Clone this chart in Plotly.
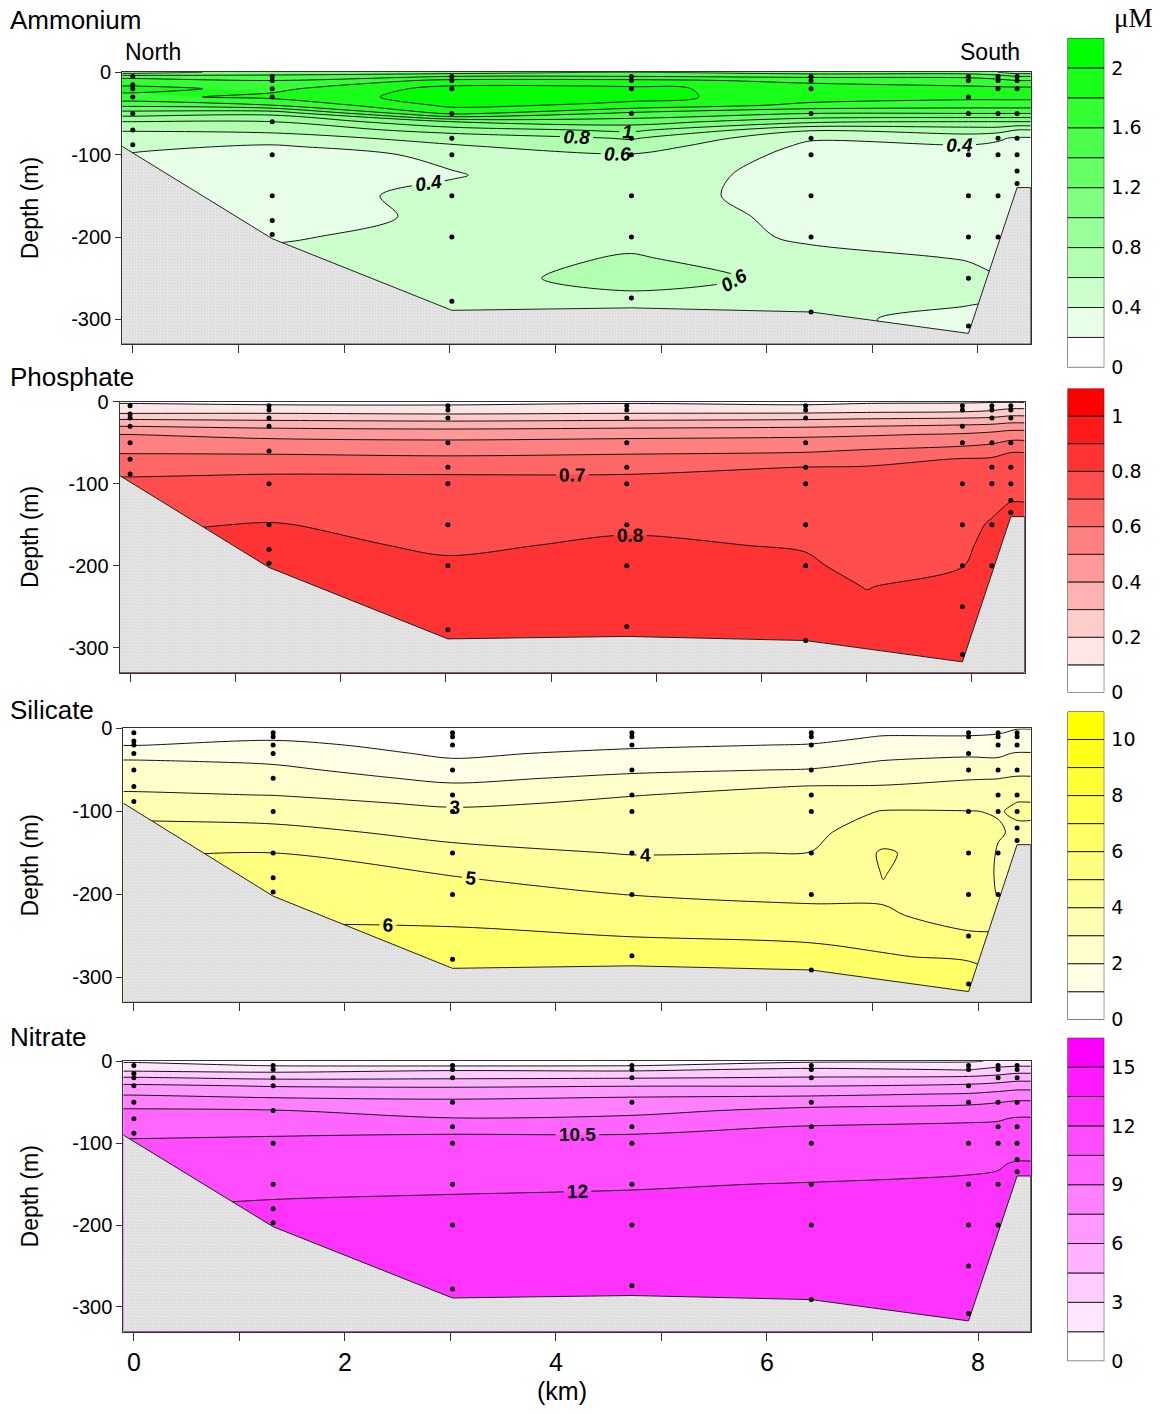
import plotly.graph_objects as go

W, H = 1166, 1414

# ---------------- data ----------------
DEPTHS = [0, 5, 10, 20, 30, 40, 50, 60, 70, 80, 90, 100, 125, 150, 175, 200, 225, 250, 275, 300, 330]
STATION_KM = [0.0, 1.32, 3.02, 4.72, 6.42, 7.91, 8.19, 8.37]
STATION_SAMPLES = [
    [5, 15, 20, 30, 50, 70, 88],
    [5, 10, 20, 30, 60, 100, 150, 180, 197],
    [5, 10, 20, 50, 80, 100, 150, 200, 278],
    [5, 10, 20, 50, 80, 100, 150, 200, 274],
    [5, 10, 20, 50, 80, 100, 150, 200, 291],
    [5, 10, 30, 50, 100, 150, 200, 250, 308],
    [5, 10, 20, 50, 80, 100, 150, 200],
    [5, 10, 20, 50, 80, 100, 120, 135],
]
BATHY_KM = [-0.1, 1.32, 3.02, 4.72, 6.42, 7.91, 8.37, 8.5]
BATHY_DEPTH = [-90, -202, -289, -286, -291, -317, -140, -140]
X_RANGE = [-0.1, 8.5]
Y_RANGE = [-330, 0]
N = None

# Ammonium (uM), one profile per column over DEPTHS
AMM_KM = [0.0, 1.32, 3.02, 4.72, 6.42, 7.91, 8.19, 8.37]
AMM_PROFILES = [
    [1.1, 1.5, 1.7, 1.85, 1.75, 1.45, 1.1, 0.8, 0.62, 0.5, 0.45, N, N, N, N, N, N, N, N, N, N],
    [1.3, 1.45, 1.6, 1.75, 1.85, 1.6, 1.05, 0.8, 0.64, 0.53, 0.37, 0.33, 0.3, 0.34, 0.33, 0.38, N, N, N, N, N],
    [1.3, 1.6, 1.85, 2.08, 2.1, 2.05, 1.85, 1.2, 0.9, 0.66, 0.58, 0.43, 0.39, 0.44, 0.43, 0.46, 0.5, 0.52, 0.5, N, N],
    [1.4, 1.6, 1.85, 2.05, 2.06, 1.95, 1.55, 1.3, 1.05, 0.82, 0.7, 0.59, 0.5, 0.47, 0.5, 0.52, 0.62, 0.68, 0.55, N, N],
    [1.3, 1.55, 1.75, 1.9, 1.9, 1.75, 1.4, 1.05, 0.62, 0.42, 0.36, 0.34, 0.32, 0.33, 0.35, 0.37, 0.45, 0.55, 0.45, N, N],
    [1.3, 1.55, 1.7, 1.85, 1.85, 1.7, 1.4, 1.0, 0.7, 0.5, 0.38, 0.35, 0.33, 0.32, 0.33, 0.35, 0.39, 0.44, 0.42, 0.36, N],
    [1.2, 1.5, 1.65, 1.85, 1.85, 1.7, 1.4, 1.0, 0.7, 0.42, 0.37, 0.35, 0.34, 0.33, 0.34, 0.36, N, N, N, N, N],
    [1.1, 1.4, 1.6, 1.85, 1.85, 1.7, 1.4, 1.0, 0.6, 0.38, 0.36, 0.35, 0.34, N, N, N, N, N, N, N, N],
]
AMM_LABELED = [0.4, 0.6, 0.8, 1.0]

# Phosphate (uM)
PHO_KM = [0.0, 1.32, 3.02, 4.72, 6.42, 7.0, 7.91, 8.19, 8.37]
PHO_PROFILES = [
    [0.085, 0.12, 0.14, 0.28, 0.4, 0.5, 0.54, 0.585, 0.63, 0.67, 0.695, N, N, N, N, N, N, N, N, N, N],
    [0.085, 0.105, 0.15, 0.27, 0.38, 0.47, 0.53, 0.58, 0.63, 0.675, 0.705, 0.72, 0.76, 0.805, 0.82, 0.84, N, N, N, N, N],
    [0.08, 0.105, 0.14, 0.26, 0.37, 0.46, 0.52, 0.57, 0.62, 0.66, 0.705, 0.72, 0.75, 0.77, 0.79, 0.81, 0.82, 0.83, 0.84, N, N],
    [0.085, 0.12, 0.15, 0.27, 0.38, 0.47, 0.53, 0.58, 0.63, 0.67, 0.705, 0.72, 0.76, 0.79, 0.81, 0.82, 0.83, 0.84, 0.84, N, N],
    [0.085, 0.105, 0.15, 0.28, 0.39, 0.48, 0.54, 0.59, 0.65, 0.702, 0.72, 0.73, 0.76, 0.78, 0.795, 0.81, 0.82, 0.83, 0.84, N, N],
    [0.085, 0.12, 0.16, 0.29, 0.4, 0.49, 0.55, 0.61, 0.67, 0.705, 0.72, 0.73, 0.745, 0.76, 0.77, 0.78, 0.798, 0.81, 0.83, 0.84, N],
    [0.085, 0.13, 0.17, 0.3, 0.42, 0.51, 0.57, 0.64, 0.705, 0.72, 0.73, 0.74, 0.75, 0.77, 0.78, 0.798, 0.82, 0.83, 0.84, 0.85, N],
    [0.09, 0.14, 0.19, 0.31, 0.43, 0.53, 0.59, 0.66, 0.71, 0.72, 0.73, 0.74, 0.78, 0.81, 0.83, 0.84, N, N, N, N, N],
    [0.09, 0.15, 0.22, 0.33, 0.45, 0.55, 0.62, 0.695, 0.72, 0.73, 0.74, 0.76, 0.805, N, N, N, N, N, N, N, N],
]
PHO_LABELED = [0.7, 0.8]

# Silicate (uM)
SIL_KM = [0.0, 1.32, 3.02, 4.72, 6.42, 7.1, 7.91, 8.19, 8.37]
SIL_PROFILES = [
    [0.6, 0.75, 0.85, 0.97, 1.6, 2.1, 2.3, 2.55, 2.85, 3.1, 3.4, N, N, N, N, N, N, N, N, N, N],
    [0.5, 0.65, 0.85, 1.2, 1.5, 1.9, 2.2, 2.45, 2.72, 2.98, 3.3, 3.55, 4.3, 5.02, 5.5, 5.95, N, N, N, N, N],
    [0.3, 0.35, 0.45, 0.7, 0.85, 1.1, 1.45, 1.8, 2.15, 2.5, 2.85, 3.15, 3.7, 4.3, 4.95, 5.4, 5.75, 6.2, 6.5, N, N],
    [0.35, 0.45, 0.6, 0.85, 1.2, 1.5, 1.85, 2.2, 2.6, 2.97, 3.15, 3.3, 3.6, 3.95, 4.5, 4.98, 5.5, 5.98, 6.4, N, N],
    [0.4, 0.55, 0.7, 1.05, 1.4, 1.7, 2.05, 2.5, 3.05, 3.25, 3.4, 3.5, 3.75, 4.02, 4.4, 4.8, 5.25, 5.8, 6.4, N, N],
    [0.6, 0.85, 1.05, 1.3, 1.7, 2.05, 2.4, 2.75, 3.05, 3.3, 3.65, 4.05, 4.6, 5.1, 5.02, 4.95, 5.05, 5.6, 6.1, 6.9, N],
    [0.6, 0.85, 1.05, 1.4, 1.85, 2.2, 2.5, 2.95, 3.2, 3.45, 3.75, 4.02, 4.3, 4.5, 4.6, 4.7, 4.85, 5.05, 5.8, 6.75, N],
    [0.7, 0.95, 1.1, 1.35, 1.9, 2.1, 2.6, 2.98, 3.3, 3.55, 3.8, 3.97, 4.05, 3.95, 3.9, 3.95, N, N, N, N, N],
    [0.98, 1.1, 1.4, 1.6, 2.05, 2.4, 2.7, 3.1, 3.5, 3.85, 4.02, 4.06, 3.92, N, N, N, N, N, N, N, N],
]
SIL_LABELED = [3, 4, 5, 6]

# Nitrate (uM)
NIT_KM = [0.0, 1.32, 3.02, 4.72, 6.42, 7.91, 8.19, 8.37]
NIT_PROFILES = [
    [1.3, 2.0, 2.6, 4.6, 6.3, 7.4, 8.2, 9.2, 9.6, 10.0, 10.3, N, N, N, N, N, N, N, N, N, N],
    [1.1, 1.4, 2.4, 4.2, 5.9, 7.1, 8.0, 9.05, 9.6, 10.0, 10.45, 10.75, 11.3, 11.7, 12.1, 12.3, N, N, N, N, N],
    [1.0, 1.3, 2.8, 4.3, 5.8, 7.0, 7.8, 8.5, 9.05, 10.0, 10.55, 10.8, 11.3, 11.8, 12.2, 12.4, 12.5, 12.6, 12.7, N, N],
    [1.2, 1.4, 2.7, 4.4, 5.95, 7.2, 8.0, 8.7, 9.2, 10.0, 10.55, 10.8, 11.35, 11.9, 12.25, 12.4, 12.5, 12.6, 12.7, N, N],
    [1.3, 2.2, 3.3, 4.6, 5.95, 7.2, 8.5, 9.3, 9.8, 10.6, 10.8, 11.0, 11.5, 12.05, 12.3, 12.4, 12.5, 12.6, 12.7, N, N],
    [1.4, 2.0, 2.9, 4.8, 6.3, 7.6, 8.7, 9.6, 10.3, 10.7, 10.9, 11.1, 11.75, 12.2, 12.35, 12.45, 12.5, 12.6, 12.7, 12.75, N],
    [1.6, 2.6, 3.5, 5.0, 6.6, 7.9, 8.95, 9.8, 10.4, 10.7, 10.9, 11.2, 11.9, 12.2, 12.4, 12.5, N, N, N, N, N],
    [1.7, 2.8, 3.8, 5.3, 6.9, 8.1, 9.2, 10.0, 10.6, 10.8, 11.0, 11.3, 12.1, N, N, N, N, N, N, N, N],
]
NIT_LABELED = [10.5, 12]

PANEL_TITLES = ["Ammonium", "Phosphate", "Silicate", "Nitrate"]
PANEL_STEPS = [0.2, 0.1, 1.0, 1.5]
PANEL_BASE_RGB = [(0, 255, 0), (255, 0, 0), (255, 255, 0), (255, 0, 255)]
CB_TICKVALS = [[0, 0.4, 0.8, 1.2, 1.6, 2.0], [0, 0.2, 0.4, 0.6, 0.8, 1.0],
               [0, 2, 4, 6, 8, 10], [0, 3, 6, 9, 12, 15]]
CB_TICKTEXT = [["0", "0.4", "0.8", "1.2", "1.6", "2"], ["0", "0.2", "0.4", "0.6", "0.8", "1"],
               ["0", "2", "4", "6", "8", "10"], ["0", "3", "6", "9", "12", "15"]]
DEPTH_TICKS = [0, -100, -200, -300]
DEPTH_TICKTEXT = ["0", "-100", "-200", "-300"]
KM_TICKS = [0, 1, 2, 3, 4, 5, 6, 7, 8]
KM_TICKTEXT = ["0", "", "2", "", "4", "", "6", "", "8"]

# ---------------- layout geometry (pixels) ----------------
PANEL_X_PX = [(122.2, 1030.8), (119.6, 1024.5), (123.3, 1030.8), (123.3, 1030.8)]
PANEL_Y_PX = [(72.7, 344.7), (402.3, 673.3), (729.3, 1003.3), (1062.3, 1332.7)]
CB_X_PX = (1067.5, 1104.3)
CB_Y_PX = [(38.3, 368.0), (389.0, 693.3), (712.3, 1020.7), (1038.7, 1362.3)]
TITLE_Y_PX = [20, 378, 711, 1038]

FONT = "Liberation Sans, Arial, sans-serif"
# empirical correction of the vertical pixel mapping observed in the rendered page
Y_OFF, Y_SCALE = 11.4, 0.985


def px_x(p):
    return p / W


def px_y(p):
    return 1 - ((p - Y_OFF) / Y_SCALE) / H


def blend(rgb, t):
    r = round(255 + (rgb[0] - 255) * t)
    g = round(255 + (rgb[1] - 255) * t)
    b = round(255 + (rgb[2] - 255) * t)
    return f"rgb({r},{g},{b})"


fig = go.Figure()
layout = dict(width=W, height=H, margin=dict(l=0, r=0, t=0, b=0, pad=0),
              paper_bgcolor="white", plot_bgcolor="white", showlegend=False,
              font=dict(family=FONT, color="black"))
annotations = []

panels = [(AMM_KM, AMM_PROFILES, AMM_LABELED),
          (PHO_KM, PHO_PROFILES, PHO_LABELED),
          (SIL_KM, SIL_PROFILES, SIL_LABELED),
          (NIT_KM, NIT_PROFILES, NIT_LABELED)]

for i, (km, profiles, labeled) in enumerate(panels):
    ax = "" if i == 0 else str(i + 1)
    xa, ya = "x" + ax, "y" + ax
    step = PANEL_STEPS[i]
    base = PANEL_BASE_RGB[i]
    levels = [round(step * k, 6) for k in range(1, 11)]
    colors = [blend(base, k / 10) for k in range(11)]
    cscale = [[k / 10, colors[k]] for k in range(11)]

    xs = [X_RANGE[0]] + list(km) + [X_RANGE[1]]
    cols = [profiles[0]] + list(profiles) + [profiles[-1]]
    z = [[cols[j][r] for j in range(len(xs))] for r in range(len(DEPTHS))]
    ys = [-d for d in DEPTHS]

    fig.add_trace(go.Contour(
        x=xs, y=ys, z=z, xaxis=xa, yaxis=ya, colorscale=cscale, showscale=False,
        connectgaps=True, hoverinfo="skip",
        contours=dict(start=levels[0], end=levels[-1], size=step, coloring="fill", showlines=False),
        line=dict(width=0, smoothing=0.9)))
    for lv in levels:
        fig.add_trace(go.Contour(
            x=xs, y=ys, z=z, xaxis=xa, yaxis=ya, showscale=False, connectgaps=True,
            hoverinfo="skip",
            contours=dict(start=lv, end=lv + step / 2, size=step, coloring="none",
                          showlabels=any(abs(lv - l) < 1e-9 for l in labeled),
                          labelfont=dict(family=FONT, size=19, color="black", weight="bold",
                                         style="italic" if i == 0 else "normal")),
            line=dict(color="#151515", width=1, smoothing=0.9)))

    # sea floor
    fig.add_trace(go.Scatter(
        x=BATHY_KM + [X_RANGE[1], X_RANGE[0]],
        y=BATHY_DEPTH + [Y_RANGE[0], Y_RANGE[0]],
        xaxis=xa, yaxis=ya, mode="lines", fill="toself",
        fillcolor="#e4e4e4",
        fillpattern=dict(shape=".", fgcolor="#bcbcbc", bgcolor="#e6e6e6", size=3, solidity=0.25),
        line=dict(color="#222222", width=1), hoverinfo="skip"))

    # sample points
    dx, dy = [], []
    for s_km, samples in zip(STATION_KM, STATION_SAMPLES):
        for d in samples:
            dx.append(s_km)
            dy.append(-d)
    fig.add_trace(go.Scatter(x=dx, y=dy, xaxis=xa, yaxis=ya, mode="markers",
                             marker=dict(size=5, color="black"), hoverinfo="skip"))

    x0, x1 = PANEL_X_PX[i]
    yt, yb = PANEL_Y_PX[i]
    layout["xaxis" + ax] = dict(
        domain=[px_x(x0), px_x(x1)], range=X_RANGE, anchor=ya, showgrid=False, zeroline=False,
        showline=True, linecolor="#333333", linewidth=1, mirror=True,
        ticks="outside", ticklen=8, tickcolor="#333333", tickvals=KM_TICKS,
        ticktext=KM_TICKTEXT if i == 3 else [""] * len(KM_TICKS),
        tickfont=dict(size=25, family=FONT, color="black"))
    layout["yaxis" + ax] = dict(
        domain=[px_y(yb), px_y(yt)], range=Y_RANGE, anchor=xa, showgrid=False, zeroline=False,
        showline=True, linecolor="#333333", linewidth=1, mirror=True,
        ticks="outside", ticklen=6, tickcolor="#333333", tickvals=DEPTH_TICKS,
        ticktext=DEPTH_TICKTEXT, tickfont=dict(size=20, family=FONT, color="black"))

    # colour bar as stacked bars
    cax = str(i + 5)
    fig.add_trace(go.Bar(
        x=[0] * 11, y=[step] * 11, base=[round(step * k, 6) for k in range(11)],
        width=1, xaxis="x" + cax, yaxis="y" + cax, hoverinfo="skip",
        marker=dict(color=colors, line=dict(color="#222222", width=1))))
    cy0, cy1 = CB_Y_PX[i]
    layout["xaxis" + cax] = dict(domain=[px_x(CB_X_PX[0]), px_x(CB_X_PX[1])], range=[-0.5, 0.5],
                                 visible=False, anchor="y" + cax, fixedrange=True)
    layout["yaxis" + cax] = dict(domain=[px_y(cy1), px_y(cy0)], range=[0, step * 11],
                                 anchor="x" + cax, side="right", showgrid=False, zeroline=False,
                                 showline=False, ticks="", tickvals=CB_TICKVALS[i],
                                 ticktext=CB_TICKTEXT[i], ticklabelstandoff=6,
                                 tickfont=dict(size=19, family="DejaVu Sans", color="black"),
                                 fixedrange=True)

    # texts
    annotations.append(dict(text=PANEL_TITLES[i], x=px_x(8), y=px_y(TITLE_Y_PX[i]),
                            xref="paper", yref="paper", xanchor="left", yanchor="middle",
                            showarrow=False, font=dict(size=26, family=FONT)))
    annotations.append(dict(text="Depth (m)", x=px_x(30), y=px_y((yt + yb) / 2),
                            xref="paper", yref="paper", xanchor="center", yanchor="middle",
                            textangle=-90, showarrow=False, font=dict(size=23, family=FONT)))

annotations.append(dict(text="North", x=px_x(153), y=px_y(52), xref="paper", yref="paper",
                        xanchor="center", yanchor="middle", showarrow=False,
                        font=dict(size=23, family=FONT)))
annotations.append(dict(text="South", x=px_x(990), y=px_y(52), xref="paper", yref="paper",
                        xanchor="center", yanchor="middle", showarrow=False,
                        font=dict(size=23, family=FONT)))
annotations.append(dict(text="μM", x=px_x(1133), y=px_y(18), xref="paper", yref="paper",
                        xanchor="center", yanchor="middle", showarrow=False,
                        font=dict(size=27, family="Liberation Serif, DejaVu Serif, serif")))
annotations.append(dict(text="(km)", x=px_x(562), y=px_y(1392), xref="paper", yref="paper",
                        xanchor="center", yanchor="middle", showarrow=False,
                        font=dict(size=25, family=FONT)))

layout["annotations"] = annotations
fig.update_layout(**layout)
fig.write_html("out.html")
